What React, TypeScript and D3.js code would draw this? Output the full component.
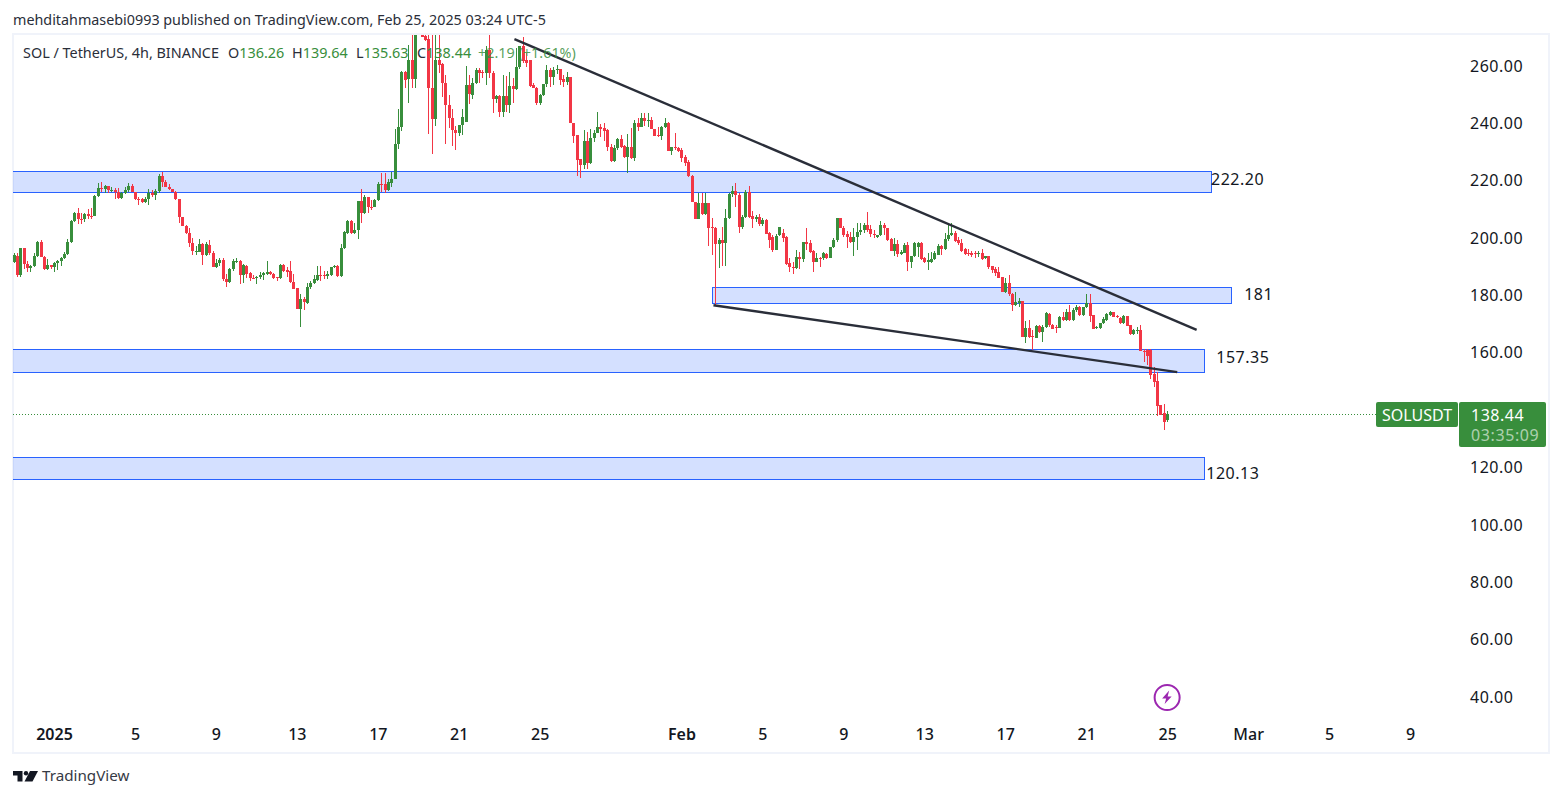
import React, { useEffect, useRef } from 'react'
import * as d3 from 'd3'

type Candle = [number, number, number, number] // open, high, low, close

const lateDecember: Candle[] = [
  [191.6, 194.5, 191, 193.9], [193.6, 194.5, 186.1, 187], [187, 196.3, 186.2, 196.2], [196.2, 196.4, 189.1, 190.8],
  [190.8, 191.7, 188.1, 189.5], [189.5, 190.5, 187.9, 190], [190, 194.5, 189.9, 193.6], [193.6, 198.9, 193.3, 198.4],
  [198.4, 199.2, 193.1, 193.3], [193.3, 193.5, 188.7, 188.9], [188.9, 192.4, 188.7, 190.4], [190.4, 190.6, 189, 189.6],
]

const januaryFirstWeek: Candle[] = [
  [189.6, 191.5, 187.9, 191], [191, 192.3, 188.7, 192], [192, 193.4, 190, 192.8], [192.8, 195.1, 192.5, 194.3],
  [194.3, 199.4, 193.9, 198.4], [198.4, 206.3, 198.2, 205.9], [205.9, 209, 205.5, 208.7], [208.7, 210.4, 204.9, 206.5],
  [206.5, 208.5, 204.7, 206.4], [206.4, 208.5, 205.5, 208.1], [208.1, 210, 206.6, 207.6], [207.6, 210.2, 206.6, 207.5],
  [207.5, 214.8, 207.4, 214.5], [214.5, 219, 214.3, 217.3], [217.3, 219.3, 216, 216.8], [216.8, 218.4, 215.6, 218],
  [218, 218, 215.6, 216.6], [216.6, 217.8, 215.9, 216.6], [216.6, 217.2, 213.5, 216], [216, 217.4, 213.4, 213.9],
  [213.9, 216, 213.4, 215.6], [215.6, 217.5, 215.1, 216.6], [216.6, 219.2, 215.9, 218], [218, 218.8, 215.9, 216],
  [216, 216, 213, 213.4], [213.4, 214.2, 211.2, 213.3], [213.3, 213.9, 212.1, 212.5], [212.5, 214.2, 212.1, 213.4],
  [213.4, 217, 211.2, 215.6], [215.6, 216.6, 214.2, 215], [215, 217, 213.1, 216.1], [216.1, 222.1, 215.6, 221.6],
  [221.6, 223, 217.7, 219.5], [219.5, 220.1, 217.7, 217.7], [217.7, 218.6, 216.6, 217], [217, 217, 215.8, 215.8],
]

const januarySlide: Candle[] = [
  [215.8, 216.1, 213.1, 213.4], [213.4, 213.4, 205.2, 207.3], [207.3, 207.3, 203.9, 204.1], [204.1, 204.4, 201.1, 201.5],
  [201.5, 203.2, 196.6, 198.2], [198.2, 199.7, 194, 195.3], [195.3, 197.2, 193.9, 195.4], [195.1, 199.5, 194.9, 197.8],
  [197.8, 198, 190.6, 194], [194, 198.3, 193.7, 197.8], [197.5, 199, 193.8, 194.7], [194.7, 195.4, 189.7, 189.9],
  [189.9, 192.4, 189.4, 191], [191, 192.8, 190, 192.2], [192.2, 192.8, 185, 185.5], [185.5, 187.2, 182.9, 184.6],
  [184.6, 189.4, 184.3, 188.9], [188.9, 192.4, 188.4, 191.8], [191.6, 192.8, 191, 191.8], [191.8, 192.2, 183.7, 187],
  [187, 190.9, 184.1, 190.4], [190.2, 190.4, 185.8, 187.3], [187.5, 188, 185, 186], [186, 186.9, 185.4, 185.8],
  [185.8, 186.7, 183.7, 186.3], [186.3, 188, 185.5, 186.8], [186.8, 188, 185.2, 187.7], [187.3, 192, 186.8, 188.1],
  [188.1, 188.4, 186.9, 187.2], [187.4, 187.6, 185.6, 186], [186.1, 186.3, 185, 185.9], [185.9, 190.8, 185.6, 190.4],
  [190.4, 190.8, 188.1, 188.5], [188.7, 189.9, 186.1, 188.1], [188.3, 192, 184.3, 184.4], [184.6, 187.2, 182, 182.2],
  [182.3, 182.3, 175, 175.2], [175.2, 180.3, 169, 178.6], [178.6, 179.4, 174.7, 177.4],
]

const januaryRally: Candle[] = [
  [177.3, 184.3, 176.9, 182.9], [182.6, 185, 182, 184.3], [184, 187, 183.8, 185.5], [185.2, 190.2, 185, 187],
  [187, 190.2, 184.7, 186.9], [187, 188.2, 185.5, 186.8], [186.7, 188.2, 185.5, 187.3], [187, 189.9, 186.7, 189.6],
  [189.6, 190.5, 189.3, 190.1], [190.1, 190.5, 186.2, 186.7], [186.5, 197.7, 186.2, 196.3], [196.3, 202.4, 196, 202],
  [201.6, 206.1, 201.4, 205.8], [205.8, 206.2, 201.3, 201.7], [201.7, 205, 201.4, 202.6], [202.6, 212.9, 199.5, 212.7],
  [212.7, 217, 205, 208.4], [208.4, 214.8, 208.2, 214.2], [214.2, 214.3, 208.6, 210.8], [210.8, 213.1, 209.5, 210.6],
  [210.8, 213.5, 210.6, 213.1], [213.1, 219.5, 212.8, 218.7], [218.7, 222.4, 216, 218.6], [218.6, 222.4, 215.6, 216.6],
  [216.6, 220.3, 216.3, 219.5], [219.2, 223, 217.7, 220.3], [220.3, 237.7, 220.3, 232.6], [232.6, 244.7, 230.8, 238.7],
  [238.7, 258, 237, 257.8], [257.8, 258, 252, 255], [255.2, 267.2, 246.8, 261.9], [261.9, 271, 252, 255.2],
  [255.2, 275, 252, 271.5], [276, 278, 273, 275], [274, 276, 270, 270], [270.3, 274, 268.6, 268.9],
]

const januaryTop: Candle[] = [
  [269.1, 271, 236, 252], [252, 274, 229, 241.2], [241.2, 274, 238.9, 261.9], [261.9, 274, 257.5, 260.2],
  [260.4, 261, 249, 253.8], [253.8, 256.7, 232.6, 246.2], [246.2, 249.7, 238.3, 241.6], [241.6, 244.8, 232, 237.5],
  [237.5, 239, 230.4, 236.3], [236.3, 239.3, 235.4, 239.1], [239.1, 245, 235.7, 241.9], [240.4, 259.8, 240.4, 253.2],
  [253.2, 256.7, 246.7, 250.1], [249.7, 255.7, 248.3, 253.8], [253.8, 259.1, 253.6, 258.4], [258.4, 259, 253.8, 257.3],
  [257.8, 258.4, 255.5, 257.3], [257.3, 266.7, 253.2, 265.4], [265.4, 272.5, 255.5, 257.3], [257.3, 258, 243.3, 248.3],
  [248.3, 249.7, 246.9, 249.4], [249.4, 249.7, 242.2, 243.9], [243.9, 256.7, 242.2, 249.4], [249.4, 256.4, 243.9, 246.2],
  [246.2, 257.8, 243.3, 252.8], [252.8, 255.5, 247, 251.8], [251.8, 266, 251.4, 259.4], [259.4, 266.8, 258.7, 266.8],
  [266.8, 270, 260.7, 261.7], [262, 264.2, 259.4, 261], [261.9, 262, 252.6, 252.9], [253.2, 253.8, 252.2, 252.3],
  [252.3, 252.6, 246.2, 246.8], [246.8, 250.1, 246.2, 249.7], [249.7, 253.6, 249.4, 253.5], [253.5, 260.2, 252.5, 258.4],
  [258.4, 259.3, 252.5, 255.9], [255.9, 259.6, 253.2, 258.4], [258.4, 260.2, 257, 258.7], [258.7, 258.7, 253.2, 255],
  [255.2, 256.7, 252.6, 254.4], [254.4, 257.8, 253.2, 256.1],
]

const januaryClose: Candle[] = [
  [256.1, 256.1, 240, 240.1], [240.1, 240.1, 233.1, 235.4], [235.8, 235.8, 221.5, 227], [227.3, 227.3, 220.9, 225.3],
  [225.3, 237.5, 223.8, 233.7], [233.7, 236.9, 224, 225.9], [225.9, 237.9, 225.5, 234.8], [234.8, 237.5, 233.5, 236.6],
  [236.6, 243.7, 236.3, 238.4], [238.4, 239.6, 235.2, 237.7], [238.1, 239.8, 233.8, 237.2], [237.5, 237.7, 230.3, 231.7],
  [231.7, 232.6, 226.5, 226.8], [226.8, 232.3, 226.5, 231.3], [231.3, 234.6, 230.7, 234.4], [234.4, 235.6, 231.2, 231.7],
  [232, 232.2, 227.6, 228.2], [228.2, 236.1, 222.6, 231.6], [231.6, 238.1, 227.3, 227.9], [227.9, 241, 226.7, 240.1],
  [240.1, 241.6, 237.3, 238.7], [238.7, 243.3, 238.4, 241.6], [241.6, 243.3, 238.9, 240.8], [240.8, 243.5, 238.7, 241],
  [241, 242, 237.7, 237.9], [237.9, 238, 235.4, 235.5], [235.8, 238.7, 235.2, 235.4], [235.4, 238.9, 234, 238.6],
  [238.6, 241.6, 238.2, 240.1], [240.1, 240.2, 230.2, 230.3], [230.3, 231.5, 228.8, 231.5], [231.5, 236.3, 230.5, 231.3],
  [231.1, 231.7, 230, 230.2], [230.5, 231.1, 226.4, 227.6], [228, 228.8, 225, 225.9], [226.3, 227, 221.1, 221.3],
]

const februaryDrop: Candle[] = [
  [221.5, 221.9, 212.3, 212.5], [212.5, 212.5, 206.4, 206.6], [206.6, 215.4, 206.4, 211.9], [211.9, 215.6, 208, 208.2],
  [208.2, 215.4, 207.8, 211.9], [211.9, 212, 196.9, 203.2], [203.6, 206.7, 194, 203.2], [203.4, 203.6, 176.2, 197.8],
  [197.8, 199.8, 189.3, 199.2], [199.2, 203.6, 190, 198], [198, 209.8, 190, 206.7], [206.7, 215.7, 206.4, 215.2],
  [215.2, 218, 214, 216.2], [216.2, 219.2, 210.6, 214.8], [214.8, 215.4, 201.6, 203.6], [203.6, 208, 203, 207.3],
  [207.3, 216.6, 207, 216], [216, 218, 206.7, 207.3], [207.5, 209.2, 203.3, 206.4], [206.4, 208, 205.5, 207.3],
  [207.3, 208.1, 204, 204.7], [204.7, 207, 204, 206.1], [206.1, 206.5, 201.2, 201.3], [201.5, 202, 196.4, 199.2],
  [200.3, 201, 195, 195.7], [195.7, 201.4, 195.5, 200.6], [200.9, 203, 200.5, 203.8],
]

const februaryRange: Candle[] = [
  [201.7, 202.9, 198.6, 200], [200.3, 200.5, 190.4, 190.8], [191, 192.8, 188.1, 189.6], [189.6, 191.6, 187.3, 189.4],
  [189.3, 195.7, 189.2, 193.1], [193.1, 195.1, 189, 192.4], [192.4, 198.6, 191.6, 198.6], [198.6, 203.5, 195.7, 197.8],
  [198, 199.2, 194.7, 195], [195.3, 195.5, 188.1, 191.6], [191.6, 194.5, 191.4, 193], [193, 193.3, 189.9, 192.8],
  [192.8, 195.1, 192.2, 194.5], [194.3, 194.5, 192.5, 193], [193, 196.6, 192.8, 196.6], [196.6, 199.7, 196.2, 199.2],
  [199.2, 207, 198.6, 206.7], [206.7, 207, 203.5, 203.5], [203.5, 204, 200.3, 201], [201.2, 202.4, 196.5, 200.3],
  [200.3, 202, 198, 198.6], [198.6, 203.2, 193.7, 200.3], [200.1, 205, 195.7, 202], [202, 205, 201, 202.6],
  [202.6, 205, 201.5, 204.4], [204.4, 208.9, 202, 202.6], [202.9, 204.4, 200.3, 201.1], [201.2, 202.6, 199.7, 200.9],
  [200.1, 201, 199.7, 200.9], [200.9, 205.9, 200.6, 204.4], [204.4, 205, 200.9, 203.2], [203.4, 203.4, 198.9, 199.2],
  [199.4, 199.7, 195.2, 195.3], [195.3, 199.7, 193.7, 197.8], [197.8, 199.2, 193.3, 194.2], [194.2, 195.5, 194, 195],
  [194.7, 198, 194.5, 197.4], [197.4, 198.6, 188.5, 191.5], [191.5, 193.6, 189.3, 193.6], [193.6, 198.6, 193.1, 198],
  [196.6, 198.6, 193.3, 198.2], [198.2, 198.6, 192.2, 192.5], [192.8, 193.3, 191.2, 191.6], [191.6, 194.5, 188.7, 192.2],
  [191.6, 195.1, 191.2, 192.5], [192.5, 195.3, 192.2, 194.7], [194.1, 197.6, 193.8, 197.2], [197.2, 197.4, 193.9, 195.9],
  [195.9, 201.7, 195.7, 199.5], [199.5, 205, 198.9, 200.9], [200.9, 205, 200.7, 201.7],
]

const februaryBreakdown: Candle[] = [
  [201.7, 202.4, 198.6, 198.8], [199.2, 200.1, 197.4, 198], [198.2, 199.4, 194.9, 195.2], [196, 196.5, 193.9, 194.3],
  [194.7, 196, 193.6, 194.3], [194.7, 195.3, 193.3, 193.9], [194.5, 195.3, 193, 194.4], [194.3, 195.4, 193.3, 194.7],
  [194.7, 195.9, 192.2, 192.4], [192.8, 193.7, 192.5, 193.6], [193.6, 193.6, 189, 189.6], [190, 190.1, 187.5, 188.7],
  [189.2, 189.6, 186.6, 187.8], [188.1, 189.9, 186, 186], [186.1, 186.2, 180.9, 181.1], [181.1, 185.8, 180.6, 184],
  [184, 187, 179.8, 180.3], [180.3, 180.8, 174.5, 176.5], [176.5, 181.1, 176.1, 177.4], [177.1, 178.8, 175.9, 178],
  [177.9, 178, 165.2, 165.4], [165.4, 171, 163.4, 168.4], [168.4, 171.3, 164.9, 165.4], [165.7, 167.8, 160.8, 165.3],
  [165.1, 169.5, 164.9, 169.3], [169.3, 169.5, 166.8, 167.2], [167.2, 169.5, 163.6, 168.7], [168.7, 174.2, 168.4, 173.8],
  [173.4, 173.8, 168.9, 169.5], [169.5, 170, 168.2, 168.2], [168.8, 169.5, 166.6, 168.7], [168.5, 172.7, 168.4, 172.4],
  [172.4, 174.2, 171, 171.3], [171.3, 175, 171, 174.2], [174.2, 176.5, 170.9, 171.3], [171.3, 175.3, 171, 174.7],
  [174.7, 176.5, 174.2, 175.9], [175.9, 176.2, 172.6, 172.9], [172.9, 175.8, 172.6, 175.7], [175.7, 180.3, 175.4, 177.1],
  [177.1, 180.3, 170.6, 172.7], [172.9, 173, 168, 168.2], [168.6, 169.2, 168, 168.7], [168.5, 170.3, 168.2, 170.1],
  [170.1, 172.4, 169.7, 171.5], [171.3, 173.6, 171, 173.2], [173, 174.5, 172.8, 173.9], [173.9, 174.2, 172.2, 172.4],
  [172.6, 172.9, 171.8, 172.2], [172.1, 172.2, 170, 170.3], [170.1, 172.9, 169.9, 172.6], [172.6, 172.6, 169.2, 169.3],
  [169.5, 169.5, 166.2, 166.4], [166.4, 168, 166.2, 167.8], [167.6, 168.9, 166.4, 167.7], [167.8, 169.4, 160.3, 160.6],
  [160.6, 161.1, 156.7, 160.5], [160.9, 161.1, 155.6, 158.7], [160.8, 161, 150.6, 152.1], [152.4, 155, 147.8, 149.8],
  [150, 153.2, 137.8, 141.3], [141.5, 141.6, 138, 138.3], [138.7, 142, 132.9, 135.8], [136.26, 139.64, 135.63, 138.44],
]

const candles: Candle[] = [
  ...lateDecember, ...januaryFirstWeek, ...januarySlide, ...januaryRally, ...januaryTop,
  ...januaryClose, ...februaryDrop, ...februaryRange, ...februaryBreakdown,
]

const priceTicks = [260, 240, 220, 200, 180, 160, 120, 100, 80, 60, 40]
const timeTicks = ['2025-01-01', '2025-01-05', '2025-01-09', '2025-01-13', '2025-01-17', '2025-01-21', '2025-01-25', '2025-02-01', '2025-02-05', '2025-02-09', '2025-02-13', '2025-02-17', '2025-02-21', '2025-02-25', '2025-03-01', '2025-03-05', '2025-03-09']
const timeLabels = ['2025', '5', '9', '13', '17', '21', '25', 'Feb', '5', '9', '13', '17', '21', '25', 'Mar', '5', '9']
const boldLabels = ['2025', 'Feb']

const zoneTops = [223, 182.7, 161, 123.3]
const zoneBottoms = [215.8, 177.1, 153, 115.7]
const zoneStarts = ['2024-12-29', '2025-02-02T12:00Z', '2024-12-29', '2024-12-29']
const zoneEnds = ['2025-02-27T04:00Z', '2025-02-28T04:00Z', '2025-02-26T20:00Z', '2025-02-26T20:00Z']
const zoneLabels = ['222.20', '181', '157.35', '120.13']

const trendStarts: [string, number][] = [['2025-01-23T18:00Z', 269.2], ['2025-02-02T14:00Z', 176.4]]
const trendEnds: [string, number][] = [['2025-02-26T11:00Z', 167.8], ['2025-02-25T12:00Z', 153.1]]

const lastPrice = 138.44
const legendValues = ['136.26', '139.64', '135.63', '138.44']

const WIDTH = 1563
const HEIGHT = 798
const GREEN = '#388e3c'
const RED = '#f23645'
const FONT = '"Noto Sans", sans-serif'

export default function App() {
  const ref = useRef<SVGSVGElement | null>(null)

  useEffect(() => {
    if (!ref.current) {
      return
    }
    const svg = d3.select(ref.current)
    svg.selectAll('*').remove()
    svg.style('font-family', FONT)

    const x = d3.scaleUtc().domain([new Date('2025-01-01'), new Date('2025-03-09')]).range([54, 1410])
    const y = d3.scaleLinear().domain([40, 260]).range([696.5, 65.5])
    const barMs = 4 * 3600 * 1000
    const firstBar = new Date('2025-01-01').getTime() - 12 * barMs
    const barX = (i: number) => Math.round(x(new Date(firstBar + i * barMs)))

    svg.append('rect').attr('width', WIDTH).attr('height', HEIGHT).attr('fill', '#fff')

    svg.append('text').attr('x', 13).attr('y', 25).attr('font-size', 14.33).attr('fill', '#2a2e39')
      .text('mehditahmasebi0993 published on TradingView.com, Feb 25, 2025 03:24 UTC-5')

    // chart frame
    svg.append('rect').attr('x', 13).attr('y', 34).attr('width', 1536).attr('height', 719)
      .attr('fill', '#fff').attr('stroke', '#f0f3fa').attr('stroke-width', 2)

    const defs = svg.append('defs')
    defs.append('clipPath').attr('id', 'pane').append('rect').attr('x', 13).attr('y', 35).attr('width', 1535).attr('height', 717)
    const pane = svg.append('g').attr('clip-path', 'url(#pane)')

    // zones
    zoneLabels.forEach((_, i) => {
      const left = Math.max(x(new Date(zoneStarts[i])), 10)
      const top = Math.floor(y(zoneTops[i]))
      pane.append('rect')
        .attr('x', Math.round(left) + 0.5)
        .attr('y', top + 0.5)
        .attr('width', Math.round(x(new Date(zoneEnds[i])) - left))
        .attr('height', Math.round(y(zoneBottoms[i])) - top)
        .attr('fill', 'rgba(41,98,255,0.2)')
        .attr('stroke', '#2962ff')
    })

    // price line
    pane.append('line').attr('x1', 13).attr('x2', 1376).attr('y1', Math.round(y(lastPrice)) + 0.5).attr('y2', Math.round(y(lastPrice)) + 0.5)
      .attr('stroke', GREEN).attr('stroke-dasharray', '1 2')

    // candles
    const bars = pane.append('g').selectAll('g').data(candles).enter().append('g')
      .attr('fill', (d) => (d[3] >= d[0] ? GREEN : RED))
    bars.append('rect')
      .attr('x', (_, i) => barX(i))
      .attr('width', 1)
      .attr('y', (d) => Math.round(y(d[1])))
      .attr('height', (d) => Math.max(1, Math.round(y(d[2])) - Math.round(y(d[1]))))
    bars.append('rect')
      .attr('x', (_, i) => barX(i) - 1)
      .attr('width', 3)
      .attr('y', (d) => Math.round(y(Math.max(d[0], d[3]))))
      .attr('height', (d) => Math.max(1, Math.round(y(Math.min(d[0], d[3]))) - Math.round(y(Math.max(d[0], d[3])))))

    // trend lines
    trendStarts.forEach((start, i) => {
      pane.append('line')
        .attr('x1', x(new Date(start[0]))).attr('y1', y(start[1]))
        .attr('x2', x(new Date(trendEnds[i][0]))).attr('y2', y(trendEnds[i][1]))
        .attr('stroke', '#2a2e39').attr('stroke-width', 2.4)
    })

    // labels next to the zones
    const labelDx = [0, 13, 12, 2]
    const labelDy = [-3, -1, -4, 5]
    zoneLabels.forEach((label, i) => {
      const mid = (y(zoneTops[i]) + y(zoneBottoms[i])) / 2
      svg.append('text')
        .attr('x', x(new Date(zoneEnds[i])) + labelDx[i])
        .attr('y', mid + labelDy[i])
        .attr('dy', '0.35em')
        .attr('font-size', 16)
        .attr('letter-spacing', 0.5)
        .attr('fill', '#131722')
        .text(label)
    })

    // legend
    const legend = svg.append('text').attr('y', 58).attr('font-size', 14.4)
    legend.append('tspan').attr('x', 23).attr('fill', '#2a2e39').text('SOL / TetherUS, 4h, BINANCE')
    const legendNames = ['O', 'H', 'L', 'C']
    const legendLeft = [228, 292, 356, 417]
    legendNames.forEach((name, i) => {
      legend.append('tspan').attr('x', legendLeft[i]).attr('fill', '#2a2e39').text(name)
      legend.append('tspan').attr('fill', GREEN).text(legendValues[i])
    })
    legend.append('tspan').attr('x', 478).attr('fill', GREEN).attr('fill-opacity', 0.85).text('+2.19 (+1.61%)')

    // axes
    const priceAxis = svg.append('g').attr('transform', 'translate(1470,0.5)')
      .call(d3.axisRight(y).tickValues(priceTicks).tickFormat((d) => (d as number).toFixed(2)).tickSize(0).tickPadding(0))
    priceAxis.select('.domain').remove()
    priceAxis.selectAll('text').attr('font-size', 16).attr('font-family', FONT).attr('letter-spacing', 0.5).attr('fill', '#131722')

    const timeAxis = svg.append('g').attr('transform', 'translate(0,729)')
      .call(
        d3.axisBottom(x)
          .tickValues(timeTicks.map((d) => new Date(d)))
          .tickFormat((_, i) => timeLabels[i])
          .tickSize(0)
          .tickPadding(0),
      )
    timeAxis.select('.domain').remove()
    timeAxis.selectAll('text')
      .attr('font-size', 16)
      .attr('font-family', FONT)
      .attr('fill', '#131722')
      .attr('font-weight', (_, i) => (boldLabels.includes(timeLabels[i]) ? 600 : 500))

    // last price tags
    const tagY = Math.round(y(lastPrice)) - 12
    svg.append('rect').attr('x', 1376).attr('y', tagY).attr('width', 82).attr('height', 25).attr('rx', 2).attr('fill', GREEN)
    svg.append('rect').attr('x', 1459).attr('y', tagY).attr('width', 87).attr('height', 45).attr('rx', 2).attr('fill', GREEN)
    svg.append('text').attr('x', 1417).attr('y', tagY + 13).attr('dy', '0.35em').attr('text-anchor', 'middle')
      .attr('font-size', 16).attr('fill', '#fff').text('SOLUSDT')
    svg.append('text').attr('x', 1471).attr('y', tagY + 13).attr('dy', '0.35em').attr('letter-spacing', 0.5)
      .attr('font-size', 16).attr('fill', '#fff').text(lastPrice.toFixed(2))
    svg.append('text').attr('x', 1471).attr('y', tagY + 33).attr('dy', '0.35em').attr('letter-spacing', 0.6)
      .attr('font-size', 16).attr('fill', '#fff').attr('fill-opacity', 0.6).text('03:35:09')

    // lightning marker
    const bolt = svg.append('g').attr('transform', `translate(${x(new Date('2025-02-25'))},697.5)`)
    bolt.append('circle').attr('r', 12.5).attr('fill', '#fff').attr('stroke', '#9c27b0').attr('stroke-width', 2)
    bolt.append('path').attr('d', 'M2,-7 L-5,1 L-1,1 L-2.5,6.5 L4.5,-1 L0.5,-1 Z').attr('fill', '#9c27b0')

    // logo
    const logo = svg.append('g').attr('transform', 'translate(13,771)').attr('fill', '#131722')
    logo.append('path').attr('d', 'M0,0 H9.5 V10.5 H4.5 V4.5 H0 Z')
    logo.append('circle').attr('cx', 13).attr('cy', 2.2).attr('r', 2.2)
    logo.append('path').attr('d', 'M17,0 H25 L19.5,10.5 H11.5 Z')
    svg.append('text').attr('x', 42).attr('y', 781).attr('font-size', 15.2).attr('fill', '#363a45').text('TradingView')
  }, [])

  return <svg ref={ref} width={WIDTH} height={HEIGHT} style={{ position: 'absolute', left: 0, top: 0 }} />
}
